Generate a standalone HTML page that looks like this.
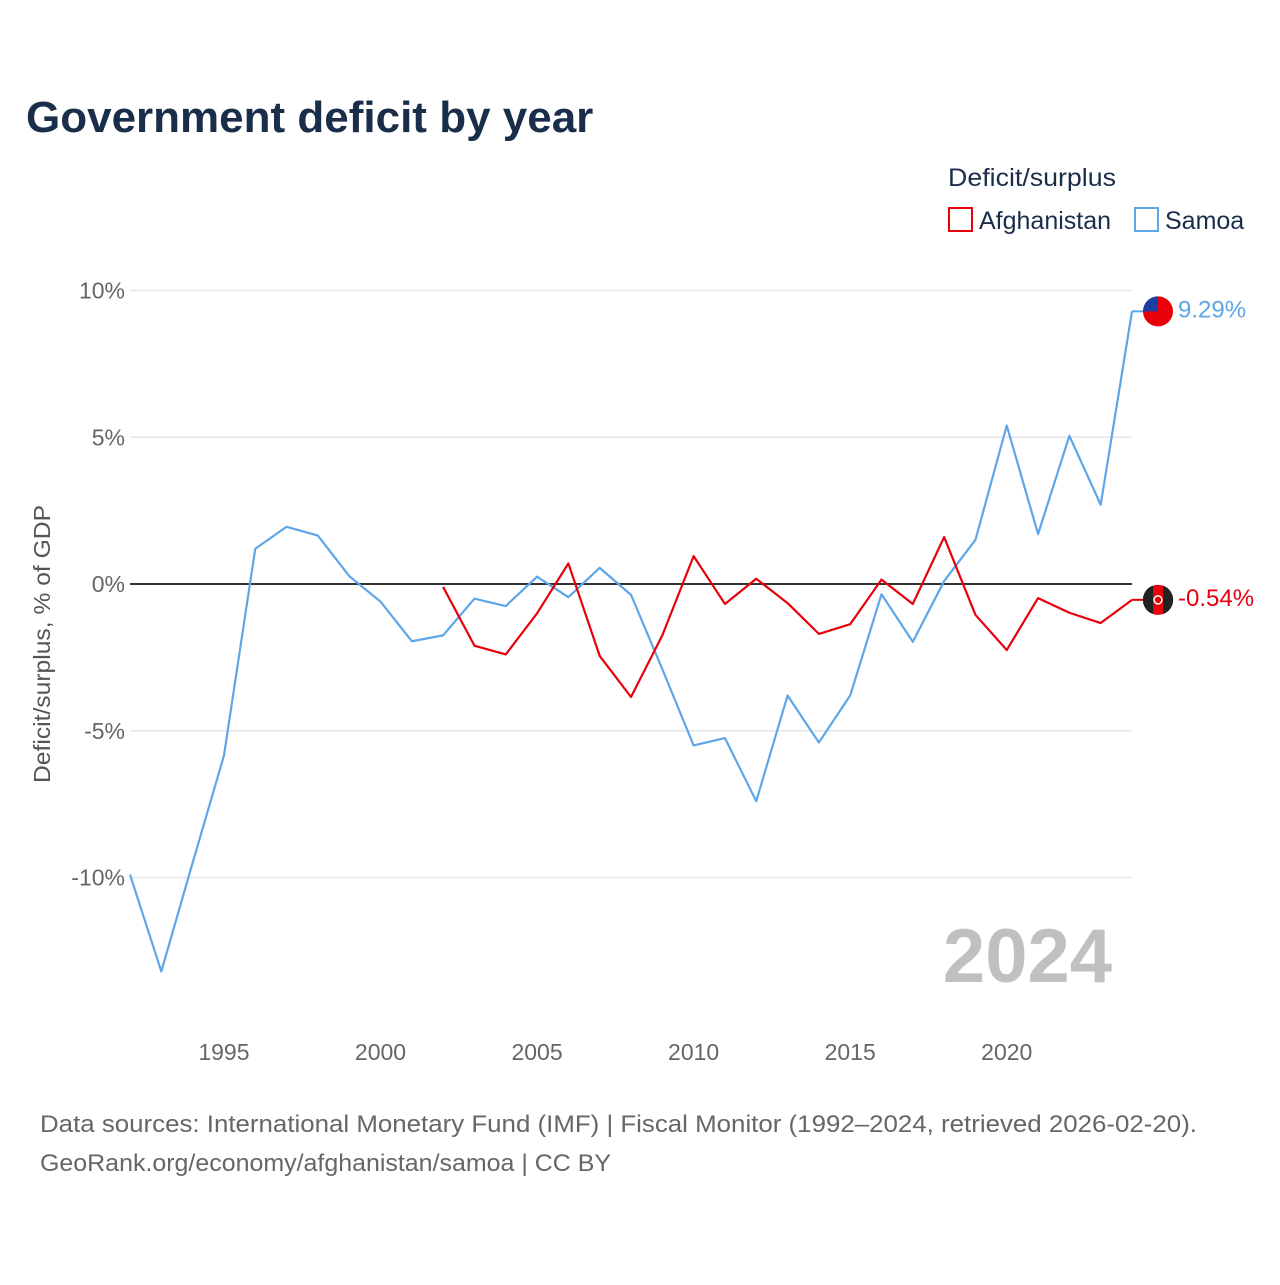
<!DOCTYPE html>
<html><head><meta charset="utf-8"><style>
body{margin:0;background:#fff;font-family:"Liberation Sans",sans-serif;}
svg text{font-family:"Liberation Sans",sans-serif;}
</style></head><body>
<svg id="chart" width="1280" height="1280" viewBox="0 0 1280 1280">
<text x="26" y="132" font-size="44" font-weight="bold" fill="#1a2e4a">Government deficit by year</text>
<text x="948" y="186" font-size="25" fill="#1a2e4a" textLength="168" lengthAdjust="spacingAndGlyphs">Deficit/surplus</text>
<g><rect x="949" y="208" width="23" height="23" fill="none" stroke="#e8000b" stroke-width="2"/><text x="979" y="229" font-size="25" fill="#1a2e4a">Afghanistan</text></g>
<g><rect x="1135" y="208" width="23" height="23" fill="none" stroke="#5ea6e8" stroke-width="2"/><text x="1165" y="229" font-size="25" fill="#1a2e4a">Samoa</text></g>
<g id="grid"></g><g id="xaxis"></g><g id="series"></g>
<text transform="translate(50,644) rotate(-90)" text-anchor="middle" font-size="23" fill="#555" textLength="278" lengthAdjust="spacingAndGlyphs">Deficit/surplus, % of GDP</text>
<text x="1112" y="982" text-anchor="end" font-size="76" font-weight="bold" fill="#c0c0c0">2024</text>
<text x="40" y="1132" font-size="24" fill="#666" textLength="1157" lengthAdjust="spacingAndGlyphs">Data sources: International Monetary Fund (IMF) | Fiscal Monitor (1992–2024, retrieved 2026-02-20).</text>
<text x="40" y="1171" font-size="24" fill="#666" textLength="571" lengthAdjust="spacingAndGlyphs">GeoRank.org/economy/afghanistan/samoa | CC BY</text>
</svg>
<script>
const samoaYears=[1992,1993,1994,1995,1996,1997,1998,1999,2000,2001,2002,2003,2004,2005,2006,2007,2008,2009,2010,2011,2012,2013,2014,2015,2016,2017,2018,2019,2020,2021,2022,2023,2024];
const samoaValues=[-9.9,-13.2,-9.5,-5.85,1.2,1.95,1.65,0.27,-0.6,-1.95,-1.75,-0.5,-0.75,0.25,-0.45,0.55,-0.37,-2.9,-5.5,-5.25,-7.4,-3.8,-5.4,-3.8,-0.35,-1.97,0.1,1.5,5.4,1.7,5.05,2.7,9.29];
const afgYears=[2002,2003,2004,2005,2006,2007,2008,2009,2010,2011,2012,2013,2014,2015,2016,2017,2018,2019,2020,2021,2022,2023,2024];
const afgValues=[-0.1,-2.1,-2.4,-1.0,0.7,-2.45,-3.85,-1.75,0.95,-0.68,0.18,-0.65,-1.7,-1.37,0.15,-0.68,1.6,-1.05,-2.25,-0.48,-0.98,-1.33,-0.54];
const yTicks=[10,5,0,-5,-10];
const yTickLabels=["10%","5%","0%","-5%","-10%"];
const xTicks=[1995,2000,2005,2010,2015,2020];
const NS="http://www.w3.org/2000/svg";
const X=y=>130+(y-1992)*(1132-130)/32;
const Y=v=>584-v*29.35;
function mk(tag,attrs,parent){const e=document.createElementNS(NS,tag);for(const k in attrs)e.setAttribute(k,attrs[k]);parent.appendChild(e);return e;}
const grid=document.getElementById('grid'),xa=document.getElementById('xaxis'),ser=document.getElementById('series');
yTicks.forEach((t,i)=>{
 const l=mk('line',{x1:130,x2:1132,y1:Y(t),y2:Y(t),stroke:t===0?'#333':'#e6e6e6','stroke-width':t===0?2:1.5},grid);
 
 
 const tx=mk('text',{x:125,y:Y(t)+8,'text-anchor':'end','font-size':23,fill:'#666'},grid);
 tx.textContent=yTickLabels[i];
 
 
});
xTicks.forEach(t=>{
 const tx=mk('text',{x:X(t),y:1060,'text-anchor':'middle','font-size':23,fill:'#666'},xa);
 tx.textContent=t;
 
 
});
function line(years,vals,color,name){
 const p=mk('polyline',{points:years.map((y,i)=>X(y)+','+Y(vals[i])).join(' '),fill:'none',stroke:color,'stroke-width':2.2,'stroke-linejoin':'round'},ser);
 
 
}
line(samoaYears,samoaValues,'#5ea6e8','samoa-line');
line(afgYears,afgValues,'#e8000b','afghanistan-line');
function endMarker(years,vals,color,name,flag,dy){
 const v=vals[vals.length-1],x=X(years[years.length-1]),y=Y(v);
 mk('line',{x1:x,x2:x+12,y1:y,y2:y,stroke:color,'stroke-width':2},ser);
 const g=mk('g',{},ser);
 
 
 if(flag==='samoa'){mk('circle',{cx:x+26,cy:y,r:15,fill:'#e8000b'},g);mk('path',{d:`M${x+11},${y} A15,15 0 0 1 ${x+26},${y-15} L${x+26},${y} Z`,fill:'#1a3fa0'},g);}
 else{mk('circle',{cx:x+26,cy:y,r:15,fill:'#e8000b'},g);mk('path',{d:`M${x+21},${y-14.2} A15,15 0 0 0 ${x+21},${y+14.2} Z`,fill:'#222'},g);mk('path',{d:`M${x+31},${y-14.2} A15,15 0 0 1 ${x+31},${y+14.2} Z`,fill:'#222'},g);mk('circle',{cx:x+26,cy:y,r:4,fill:'none',stroke:'#fff','stroke-width':1.5},g);}
 const t=mk('text',{x:x+46,y:y+8+dy,'font-size':24,fill:color},ser);
 t.textContent=v.toFixed(2)+'%';
 
 
}
endMarker(samoaYears,samoaValues,'#5ea6e8','samoa','samoa',-2);
endMarker(afgYears,afgValues,'#e8000b','afghanistan','afg',-2);
</script>
</body></html>
